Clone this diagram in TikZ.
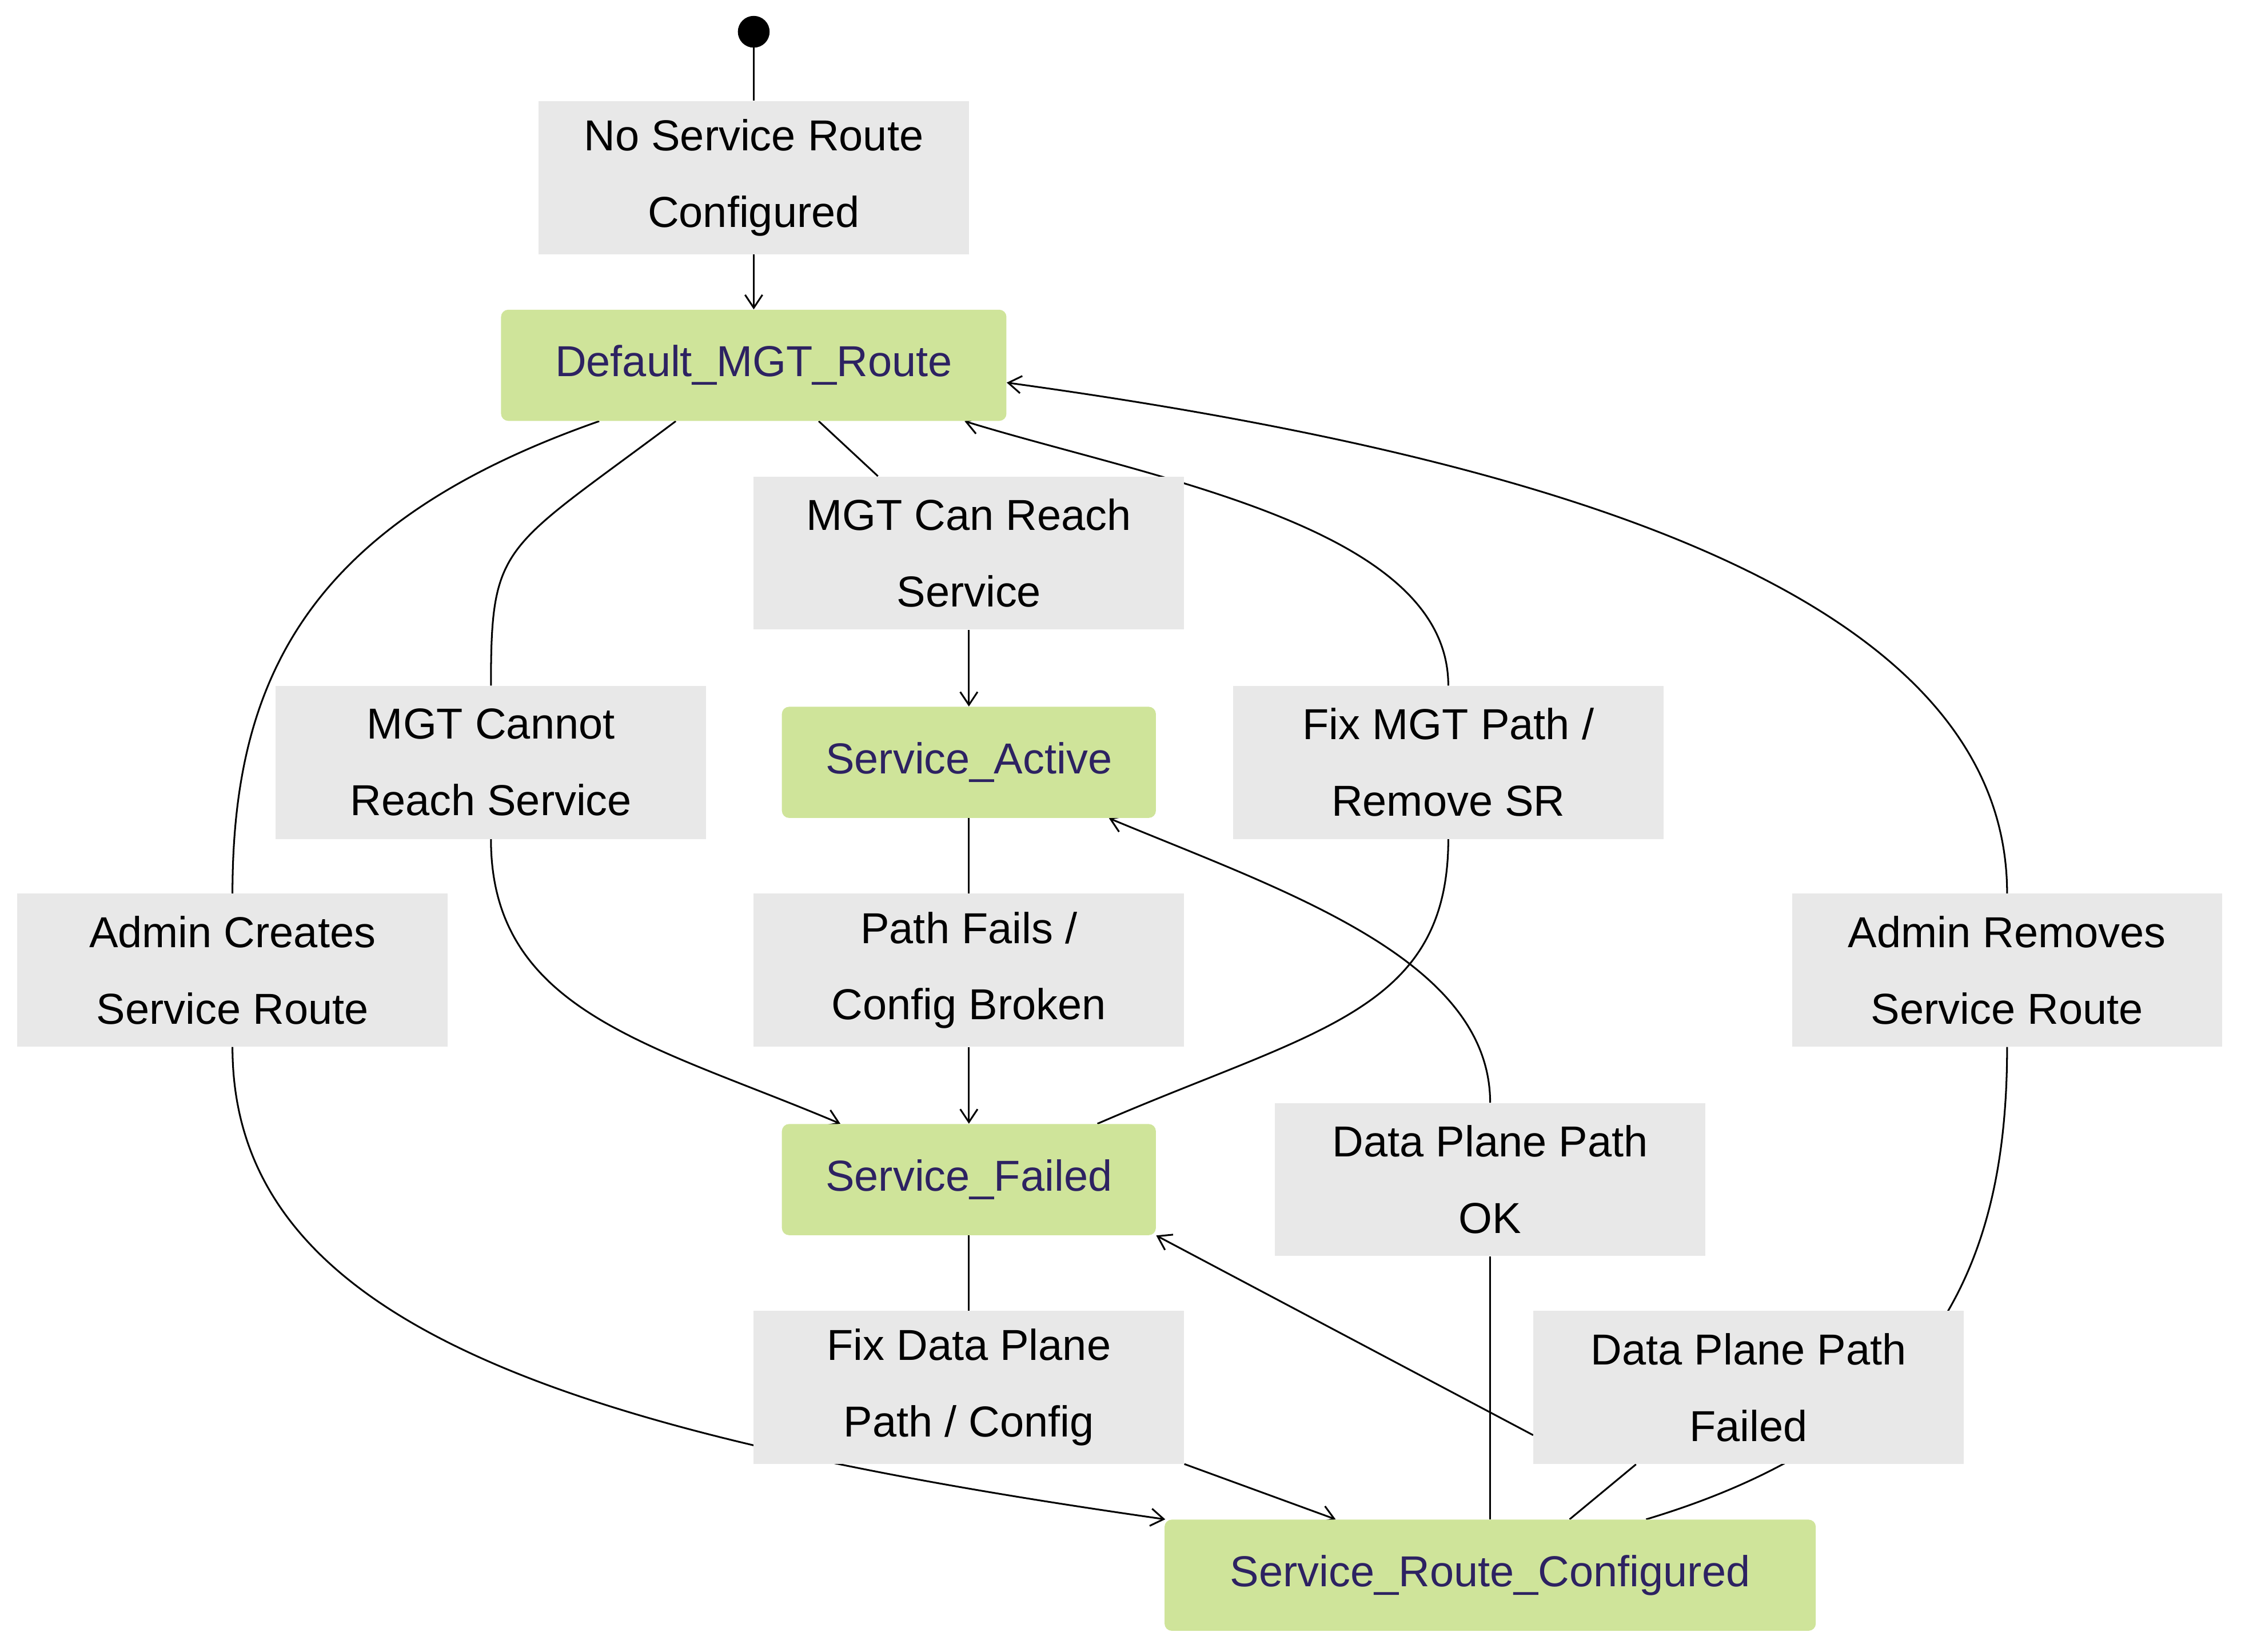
\documentclass[tikz,border=0pt]{standalone}
\usepackage{fontspec}
\setmainfont{Liberation Sans}
\usetikzlibrary{arrows.meta,backgrounds}
\definecolor{stategreen}{HTML}{CFE49A}
\definecolor{statetext}{HTML}{2D2262}
\definecolor{labelgray}{HTML}{E8E8E8}
\tikzset{
  state/.style={fill=stategreen, rounded corners=5pt, minimum height=77pt, inner sep=0pt,
    text=statetext, font=\fontsize{30}{36}\selectfont},
  lbl/.style={fill=labelgray, minimum width=298pt, minimum height=106pt, inner sep=0pt,
    align=center, font=\fontsize{30}{53}\selectfont},
  trans/.style={line width=1.2pt},
  arr/.style={trans, -{Straight Barb[length=9pt,width=12pt]}},
}
\begin{document}
\begin{tikzpicture}[x=1pt, y=-1pt]
\useasboundingbox (0,0) rectangle (1552,1144);
% states
\fill (522,22) circle (11) coordinate (start);
\node[state, minimum width=350pt] (dmr) at (522,253) {Default\_MGT\_Route};
\node[state, minimum width=259pt] (sa) at (671,528) {Service\_Active};
\node[state, minimum width=259pt] (sf) at (671,817) {Service\_Failed};
\node[state, minimum width=451pt] (src) at (1032,1091) {Service\_Route\_Configured};
% labels
\node[lbl] (lnosr) at (522,123) {No Service Route\\Configured};
\node[lbl] (lcan) at (671,383) {MGT Can Reach\\Service};
\node[lbl] (lcannot) at (340,528) {MGT Cannot\\Reach Service};
\node[lbl] (lfixmgt) at (1003,528) {Fix MGT Path /\\Remove SR};
\node[lbl] (lcreate) at (161,672) {Admin Creates\\Service Route};
\node[lbl] (lfails) at (671,672) {Path Fails /\\Config Broken};
\node[lbl] (lremove) at (1390,672) {Admin Removes\\Service Route};
\node[lbl] (lok) at (1032,817) {Data Plane Path\\OK};
\node[lbl] (lfixdp) at (671,961) {Fix Data Plane\\Path / Config};
\node[lbl] (ldpfail) at (1211,961) {Data Plane Path\\Failed};
% transitions
\begin{scope}[on background layer]
\draw[trans] (start) -- (lnosr);
\draw[arr] (lnosr) -- (dmr);
\draw[trans] ([xshift=-107pt]dmr.south) .. controls +(-200,70) and +(0,-150) .. (lcreate.north);
\draw[arr] (lcreate.south) .. controls +(0,190) and +(-420,-60) .. ([xshift=-225pt]src.north);
\draw[trans] ([xshift=-54pt]dmr.south) .. controls +(-120,90) and +(0,-100) .. (lcannot.north);
\draw[arr] (lcannot.south) .. controls +(0,120) and +(-130,-55) .. ([xshift=-89pt]sf.north);
\draw[trans] ([xshift=45pt]dmr.south) -- ([xshift=-63pt]lcan.north);
\draw[arr] (lcan.south) .. controls +(0,25) and +(0,-25) .. (sa.north);
\draw[trans] (sa.south) -- (lfails.north);
\draw[arr] (lfails.south) -- (sf.north);
\draw[trans] ([xshift=89pt]sf.north) .. controls +(150,-65) and +(0,120) .. (lfixmgt.south);
\draw[arr] (lfixmgt.north) .. controls +(0,-110) and +(130,40) .. ([xshift=146pt]dmr.south);
\draw[trans] (src.north) -- (lok.south);
\draw[arr] (lok.north) .. controls +(0,-100) and +(120,50) .. ([xshift=97pt]sa.south);
\draw[trans] ([xshift=55pt]src.north) -- ([xshift=-78pt]ldpfail.south);
\draw[arr] ([yshift=-33pt]ldpfail.west) -- (sf.south east);
\draw[trans] ([xshift=108pt]src.north) .. controls +(200,-60) and +(0,150) .. (lremove.south);
\draw[arr] (lremove.north) .. controls +(0,-200) and +(400,55) .. ([yshift=-12pt]dmr.east);
\draw[trans] (sf.south) -- (lfixdp.north);
\draw[arr] ([yshift=-53pt]lfixdp.east) -- ([xshift=-107pt]src.north);
\end{scope}
\end{tikzpicture}
\end{document}
